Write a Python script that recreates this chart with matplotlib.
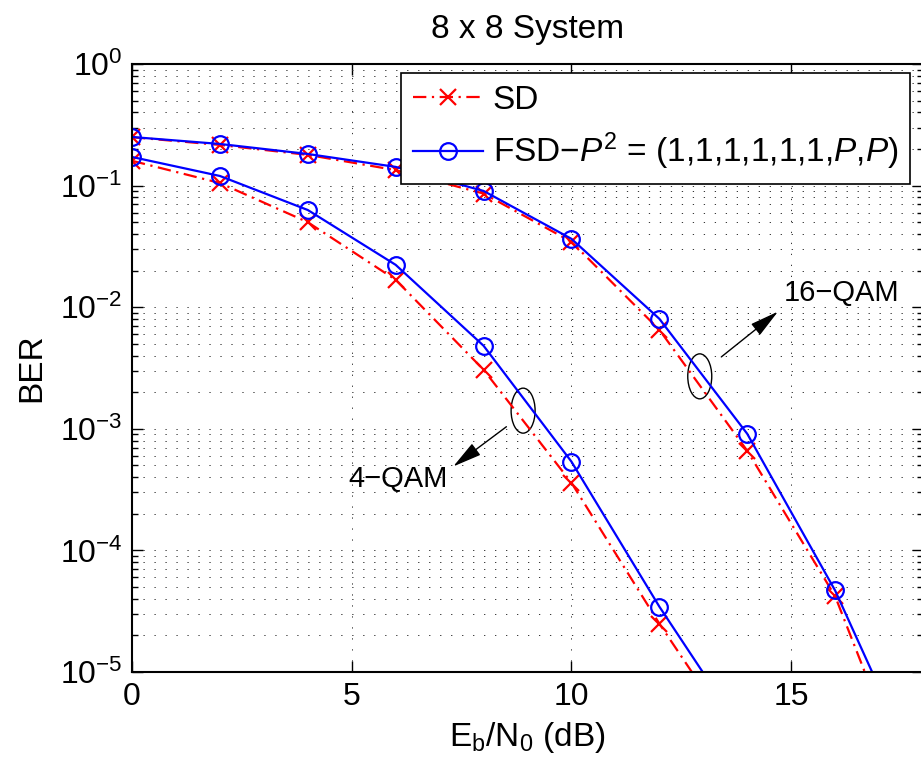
import matplotlib
matplotlib.use("Agg")
import matplotlib.pyplot as plt
from matplotlib.patches import Ellipse
from matplotlib.transforms import ScaledTranslation
from matplotlib.ticker import NullFormatter, LogLocator

plt.rcParams['font.family'] = ['Liberation Sans', 'DejaVu Sans']
plt.rcParams['mathtext.fontset'] = 'custom'
plt.rcParams['mathtext.rm'] = 'Liberation Sans'
plt.rcParams['mathtext.it'] = 'Liberation Sans:italic'
plt.rcParams['mathtext.bf'] = 'Liberation Sans:bold'

# Eb/N0 in dB
snr_4qam = [0, 2, 4, 6, 8, 10, 12, 14]
snr_16qam = [0, 2, 4, 6, 8, 10, 12, 14, 16, 18]

# BER
sd_4qam = [0.160, 0.105, 0.050, 0.0168, 3.06e-3, 3.6e-4, 2.5e-5, 2.1e-6]
fsd_4qam = [0.172, 0.120, 0.063, 0.0223, 4.82e-3, 5.37e-4, 3.45e-5, 2.8e-6]
sd_16qam = [0.250, 0.216, 0.179, 0.134, 0.086, 0.0345, 6.52e-3, 6.6e-4, 4.2e-5, 6e-7]
fsd_16qam = [0.251, 0.220, 0.182, 0.1425, 0.0904, 0.0365, 8.03e-3, 9.1e-4, 4.68e-5, 1.2e-6]

fig = plt.figure(figsize=(9.21, 7.64), dpi=100)
ax = fig.add_axes([132/921, 92/764, 791/921, 608/764])

sd_style = dict(color='red', lw=1.6, dashes=(6, 2.5, 1, 2.5), marker='x', ms=11, mew=1.6)
fsd_style = dict(color='blue', lw=1.6, ls='-', marker='o', ms=12, mew=1.6, mfc='none')

ax.semilogy(snr_4qam, sd_4qam, label='SD', **sd_style)
ax.semilogy(snr_4qam, fsd_4qam,
            label='FSD\u2212$\\mathit{P}^{2}$ = (1,1,1,1,1,1,$\\mathit{P}$,$\\mathit{P}$)', **fsd_style)
ax.semilogy(snr_16qam, sd_16qam, **sd_style)
ax.semilogy(snr_16qam, fsd_16qam, **fsd_style)

ax.set_xlim(0, 18)
ax.set_ylim(1e-5, 1)
ax.set_xticks([0, 5, 10, 15])
ax.yaxis.set_minor_locator(LogLocator(base=10, subs=range(2, 10)))
ax.yaxis.set_minor_formatter(NullFormatter())

grid_style = dict(color='0.2', lw=0.7, linestyle=(0, (1.3, 10)))
ax.grid(True, which='major', axis='both', **grid_style)
ax.grid(True, which='minor', axis='y', **grid_style)

ax.tick_params(which='both', direction='in', top=True, right=True, labelsize=23, width=1)
ax.tick_params(which='major', length=8, pad=7)
ax.tick_params(which='minor', length=4)
for s in ax.spines.values():
    s.set_linewidth(1.5)

ax.set_title('8 x 8 System', fontsize=24, pad=19)
ax.set_xlabel('E$_\\mathregular{b}$/N$_\\mathregular{0}$ (dB)', fontsize=24, labelpad=6)
ax.set_ylabel('BER', fontsize=24, labelpad=9)

# ellipses marking the curve groups
for cx, cy in [(8.90, 1.41e-3), (12.92, 2.7e-3)]:
    tr = fig.dpi_scale_trans + ScaledTranslation(cx, cy, ax.transData)
    ax.add_patch(Ellipse((0, 0), 0.24, 0.45, transform=tr, fill=False, color='k', lw=1))

arrow = dict(arrowstyle='-|>,head_length=0.9,head_width=0.22', color='k', lw=1,
             shrinkA=0, shrinkB=0, mutation_scale=20)
ax.annotate('', xy=(7.31, 4.9e-4), xytext=(8.52, 1.04e-3), arrowprops=arrow)
ax.annotate('', xy=(14.70, 9.2e-3), xytext=(13.41, 3.9e-3), arrowprops=arrow)
ax.text(6.06, 3.9e-4, '4\u2212QAM', fontsize=21, ha='center', va='center')
ax.text(16.14, 1.31e-2, '16\u2212QAM', fontsize=21, ha='center', va='center')

leg = ax.legend(loc='upper left', bbox_to_anchor=(401/921, 1 - 73/764),
                bbox_transform=fig.transFigure, fontsize=24, fancybox=False,
                framealpha=1, edgecolor='k', borderaxespad=0, borderpad=0.35,
                handlelength=2.1, handletextpad=0.3, labelspacing=0.45)
leg.get_frame().set_linewidth(1.2)

fig.savefig('out.png', dpi=100)
